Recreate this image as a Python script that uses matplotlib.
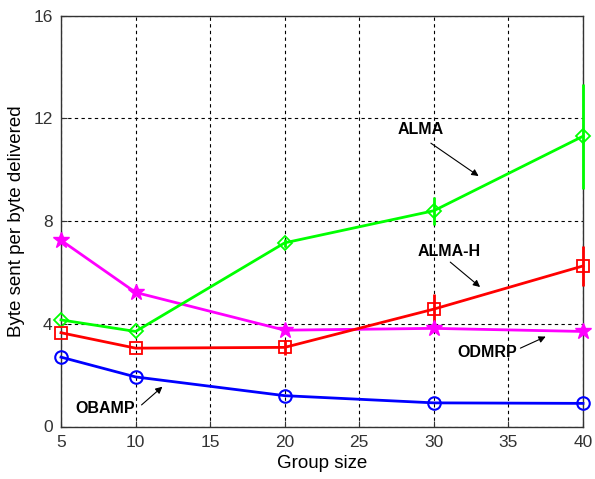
import matplotlib.pyplot as plt
import numpy as np

plt.rcParams["font.family"] = ["Liberation Sans", "DejaVu Sans"]

# data
group_size = [5, 10, 20, 30, 40]
alma = [4.15, 3.7, 7.15, 8.4, 11.3]
alma_err = [0.0, 0.0, 0.15, 0.55, 2.05]
alma_h = [3.65, 3.05, 3.08, 4.57, 6.25]
alma_h_err = [0.0, 0.0, 0.3, 0.6, 0.78]
odmrp = [7.25, 5.22, 3.75, 3.82, 3.7]
obamp = [2.7, 1.93, 1.2, 0.92, 0.9]

x_ticks = [5, 10, 15, 20, 25, 30, 35, 40]
y_ticks = [0, 4, 8, 12, 16]

fig = plt.figure(figsize=(5.95, 4.79), dpi=100)
ax = fig.add_axes([61 / 595, 1 - 426.5 / 479, 522 / 595, 411 / 479])

eb1 = ax.errorbar(group_size, alma, yerr=alma_err, color="#00ff00", marker="D",
                  markersize=7, markerfacecolor="none", markeredgewidth=1.3,
                  lw=2, elinewidth=2, capsize=0, zorder=4)
eb2 = ax.errorbar(group_size, alma_h, yerr=alma_h_err, color="#ff0000", marker="s",
                  markersize=8, markerfacecolor="none", markeredgewidth=1.3,
                  lw=2, elinewidth=2, capsize=0, zorder=4)
ax.plot(group_size, odmrp, color="#ff00ff", marker="*", markersize=12,
        lw=2, zorder=4, clip_on=False)
ax.plot(group_size, obamp, color="#0000ff", marker="o", markersize=9,
        markerfacecolor="none", markeredgewidth=1.5, lw=2, zorder=4,
        clip_on=False)
for eb in (eb1, eb2):
    for art in eb.get_children():
        art.set_clip_on(False)

# annotations
ann = dict(fontsize=11.5, fontweight="bold", ha="center", va="center")
arr = dict(arrowstyle="-|>", color="black", lw=0.8, mutation_scale=10,
           shrinkA=0, shrinkB=0)
ax.text(29.1, 11.55, "ALMA", **ann)
ax.annotate("", xy=(33.0, 9.75), xytext=(29.8, 11.03), arrowprops=arr)
ax.text(31.0, 6.83, "ALMA-H", **ann)
ax.annotate("", xy=(33.1, 5.43), xytext=(31.1, 6.4), arrowprops=arr)
ax.text(33.6, 2.9, "ODMRP", **ann)
ax.annotate("", xy=(37.5, 3.5), xytext=(35.8, 3.05), arrowprops=arr)
ax.text(7.95, 0.72, "OBAMP", **ann)
ax.annotate("", xy=(11.8, 1.55), xytext=(10.4, 0.84), arrowprops=arr)

ax.set_xlim(5, 40)
ax.set_ylim(0, 16)
ax.set_xticks(x_ticks)
ax.set_yticks(y_ticks)
ax.grid(True, color="black", linestyle=(0, (3, 3)), lw=0.8)
ax.tick_params(direction="in", labelsize=12.5, length=4, pad=6,
               colors="#333333")
for s in ax.spines.values():
    s.set_color("#333333")
    s.set_linewidth(1.0)

ax.set_xlabel("Group size", fontsize=13.5, labelpad=4)
ax.set_ylabel("Byte sent per byte delivered", fontsize=13.5, labelpad=6)

fig.savefig("out.png", dpi=100, facecolor="white")
